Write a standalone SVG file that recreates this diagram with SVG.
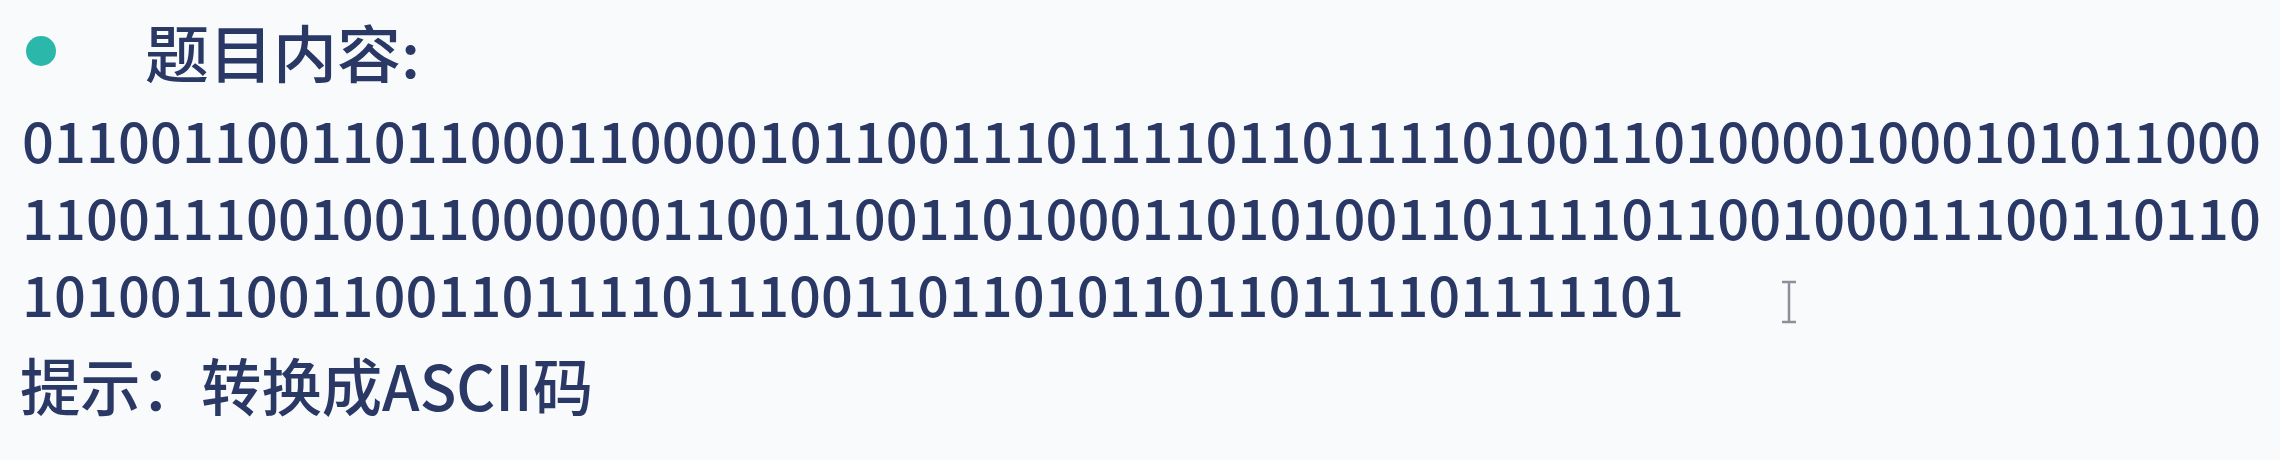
<svg xmlns="http://www.w3.org/2000/svg" width="2280" height="460" viewBox="0 0 2280 460">
<style>
.t{font-family:"Noto Sans CJK SC","Noto Sans",sans-serif;fill:#2a3866;font-weight:500;}
.h{font-size:62px;}
.b{font-size:56px;}
</style>
<rect x="0" y="0" width="2280" height="460" fill="#f9fafb"/>
<g id="title">
<circle cx="41" cy="51" r="15" fill="#2bb8aa"/>
<text class="t h" x="145" y="78" textLength="275" lengthAdjust="spacingAndGlyphs">题目内容:</text>
</g>
<g id="content">
<text class="t b" x="22" y="163" textLength="2239" lengthAdjust="spacing">0110011001101100011000010110011101111011011110100110100001000101011000</text>
<text class="t b" x="22" y="240" textLength="2239" lengthAdjust="spacing">1100111001001100000011001100110100011010100110111101100100011100110110</text>
<text class="t b" x="22" y="317" textLength="1662" lengthAdjust="spacing">1010011001100110111101110011011010110110111101111101</text>
</g>
<g id="cursor" stroke="#8a8f99" stroke-width="2.5" fill="none">
<path d="M1782 282 H1796 M1789 282 V322 M1782 322 H1796"/>
</g>
<g id="hint">
<text class="t h" x="20" y="411" textLength="573" lengthAdjust="spacingAndGlyphs">提示：转换成ASCII码</text>
</g>
</svg>
